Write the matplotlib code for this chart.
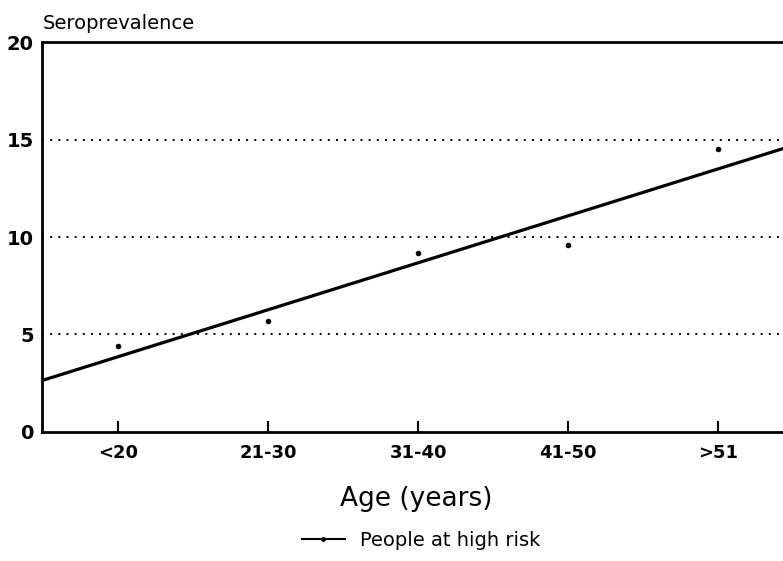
import matplotlib.pyplot as plt
import numpy as np
from matplotlib.lines import Line2D

plt.rcParams['font.family'] = ['DejaVu Sans']

ages = ['<20', '21-30', '31-40', '41-50', '>51']
seroprev = [4.4, 5.7, 9.2, 9.6, 14.5]
yticks = [0, 5, 10, 15, 20]

fig = plt.figure(figsize=(7.83, 5.61), dpi=100)
ax = fig.add_axes([0.0536, 0.23, 0.9464, 0.695])

x = np.arange(len(ages))
ax.scatter(x, seroprev, color='black', s=9, zorder=3)

# fitted trend line
slope, icpt = np.polyfit(x, seroprev, 1)
xl = np.array([-0.51, 4.45])
ax.plot(xl, icpt + slope * xl, color='black', lw=2.3, zorder=2)

for g in yticks[1:-1]:
    ax.axhline(g, color='black', lw=1.4, ls=(0, (1, 3.2)), zorder=1)

ax.set_xlim(-0.507, 4.43)
ax.set_ylim(0, 20)
ax.set_xticks(x)
ax.set_xticklabels(ages)
ax.set_yticks(yticks)
ax.tick_params(axis='x', direction='in', length=8, width=1.5, pad=9, labelsize=13)
ax.tick_params(axis='y', length=0, pad=6, labelsize=14)
for lab in ax.get_yticklabels() + ax.get_xticklabels():
    lab.set_fontweight('bold')

ax.spines['right'].set_visible(False)
for s in ['left', 'top', 'bottom']:
    ax.spines[s].set_linewidth(2)

fig.text(0.055, 0.958, 'Seroprevalence', fontsize=14, va='center', ha='left')
fig.text(0.532, 0.11, 'Age (years)', fontsize=19, ha='center', va='center')

h = Line2D([0], [0], color='black', lw=1.5, marker='.', markersize=5)
fig.legend([h], ['People at high risk'], loc='center', bbox_to_anchor=(0.538, 0.037),
           frameon=False, fontsize=14, handlelength=2.2)

fig.savefig('out.png', dpi=100)
